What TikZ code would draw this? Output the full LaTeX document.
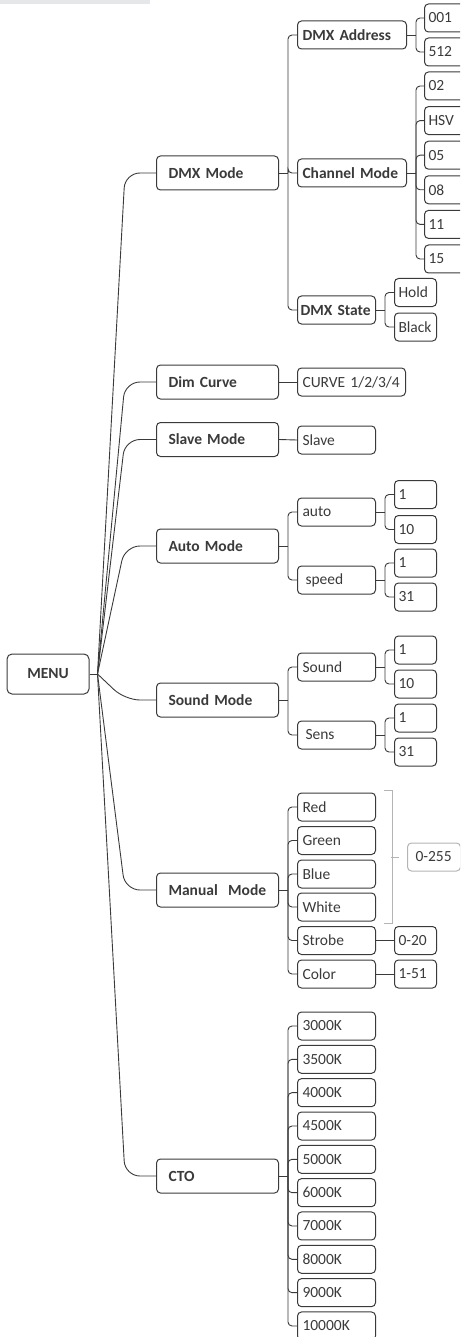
\documentclass[tikz,border=0pt]{standalone}
\usepackage{fontspec}
\setmainfont{Carlito}
\definecolor{ink}{HTML}{3A3A3A}
\definecolor{soft}{HTML}{B4B4B4}
\definecolor{bar}{HTML}{E6E7E9}
\begin{document}
\begin{tikzpicture}[x=1pt, y=-1pt, color=ink, font=\fontsize{15.5}{18}\selectfont,
  menubox/.style={draw, line width=1pt, rounded corners=5pt, minimum width=82pt, minimum height=40pt, font=\fontsize{15.5}{18}\selectfont\bfseries},
  topbox/.style={draw, line width=1pt, rounded corners=4pt, anchor=west, minimum height=34pt, text width=98pt, inner xsep=12pt, align=left, font=\fontsize{15.5}{18}\selectfont\bfseries},
  midbox/.style={draw, line width=1pt, rounded corners=4pt, anchor=west, minimum height=28pt, text width=#1, inner xsep=5pt, align=left},
  midbox/.default=68pt,
  endbox/.style={draw, line width=1pt, rounded corners=4pt, anchor=west, minimum height=28pt, text width=34pt, inner xsep=4pt, align=left},
  trunk/.style={line width=0.9pt, rounded corners=15pt},
  fork/.style={line width=0.9pt, rounded corners=4pt}]
\useasboundingbox (0,0) rectangle (460,1337);
\clip (0,0) rectangle (460,1337);
\fill[bar] (0,0) rectangle (150,4);
% root
\node[menubox] (menu) at (48,674){MENU};
\coordinate (mb) at ([xshift=8pt]menu.east);
\draw[fork] (menu.east) -- (mb);
% first level
\node[topbox] (dmx) at (156,173){DMX Mode};
\node[topbox] (dim) at (156,382){Dim Curve};
\node[topbox] (slave) at (156,439.5){Slave Mode};
\node[topbox] (auto) at (156,546){Auto Mode};
\node[topbox] (sound) at (156,700){Sound Mode};
\node[topbox] (manual) at (156,890){Manual\ \ Mode};
\node[topbox] (cto) at (156,1176){CTO};
\foreach \t in {dmx,dim,slave,auto,sound,manual,cto}
  \draw[trunk] (mb) -- ([xshift=-31pt]\t.west) -- (\t.west);
% DMX Mode
\node[midbox=99pt, font=\fontsize{15.5}{18}\selectfont\bfseries] (addr) at (297,35){DMX Address};
\node[midbox=99pt, font=\fontsize{15.5}{18}\selectfont\bfseries] (chan) at (297,173){Channel Mode};
\node[midbox=72pt, inner xsep=3pt, font=\fontsize{15.5}{18}\selectfont\bfseries] (state) at (297,310){DMX State};
\coordinate (dmxb) at ([xshift=9pt]dmx.east);
\draw[fork] (dmx.east) -- (dmxb);
\foreach \t in {addr,chan,state}
  \draw[fork] (dmxb) |- (\t.west);
\node[endbox] (a1) at (424,18){001};
\node[endbox] (a2) at (424,52){512};
\coordinate (addrb) at ([xshift=9pt]addr.east);
\draw[fork] (addr.east) -- (addrb);
\draw[fork] (addrb) |- (a1.west);
\draw[fork] (addrb) |- (a2.west);
\foreach \c [count=\i from 0] in {02,HSV,05,08,11,15}
  \node[endbox] (ch\i) at (424,86+34.6*\i){\c};
\coordinate (chanb) at ([xshift=9pt]chan.east);
\draw[fork] (chan.east) -- (chanb);
\foreach \i in {0,...,5}
  \draw[fork] (chanb) |- (ch\i.west);
\node[endbox] (hold) at (394,292.5){Hold};
\node[endbox] (black) at (394,327){Black};
\coordinate (stateb) at ([xshift=9pt]state.east);
\draw[fork] (state.east) -- (stateb);
\draw[fork] (stateb) |- (hold.west);
\draw[fork] (stateb) |- (black.west);
% Dim Curve, Slave Mode
\node[midbox=98pt] (curve) at (297,382){CURVE 1/2/3/4};
\draw[fork] (dim.east) -- (curve.west);
\node[midbox] (slv) at (297,440){Slave};
\draw[fork] (slave.east) -- (slv.west);
% Auto Mode
\node[midbox] (au) at (297,512){auto};
\node[midbox] (spd) at (297,580){\hspace*{3pt}speed};
\coordinate (autob) at ([xshift=9pt]auto.east);
\draw[fork] (auto.east) -- (autob);
\draw[fork] (autob) |- (au.west);
\draw[fork] (autob) |- (spd.west);
\node[endbox] (au1) at (394,494.5){1};
\node[endbox] (au2) at (394,529.5){10};
\coordinate (aub) at ([xshift=9pt]au.east);
\draw[fork] (au.east) -- (aub);
\draw[fork] (aub) |- (au1.west);
\draw[fork] (aub) |- (au2.west);
\node[endbox] (sp1) at (394,563){1};
\node[endbox] (sp2) at (394,597){31};
\coordinate (spdb) at ([xshift=9pt]spd.east);
\draw[fork] (spd.east) -- (spdb);
\draw[fork] (spdb) |- (sp1.west);
\draw[fork] (spdb) |- (sp2.west);
% Sound Mode
\node[midbox] (snd) at (297,667){Sound};
\node[midbox] (sens) at (297,735){\hspace*{3pt}Sens};
\coordinate (soundb) at ([xshift=9pt]sound.east);
\draw[fork] (sound.east) -- (soundb);
\draw[fork] (soundb) |- (snd.west);
\draw[fork] (soundb) |- (sens.west);
\node[endbox] (sn1) at (394,650){1};
\node[endbox] (sn2) at (394,684){10};
\coordinate (sndb) at ([xshift=9pt]snd.east);
\draw[fork] (snd.east) -- (sndb);
\draw[fork] (sndb) |- (sn1.west);
\draw[fork] (sndb) |- (sn2.west);
\node[endbox] (se1) at (394,718){1};
\node[endbox] (se2) at (394,752){31};
\coordinate (sensb) at ([xshift=9pt]sens.east);
\draw[fork] (sens.east) -- (sensb);
\draw[fork] (sensb) |- (se1.west);
\draw[fork] (sensb) |- (se2.west);
% Manual Mode
\node[midbox] (red) at (297,807){Red};
\node[midbox] (green) at (297,840.5){Green};
\node[midbox] (blue) at (297,874){Blue};
\node[midbox] (white) at (297,907){White};
\node[midbox] (strobe) at (297,940.5){Strobe};
\node[midbox] (color) at (297,974){Color};
\coordinate (manualb) at ([xshift=9pt]manual.east);
\draw[fork] (manual.east) -- (manualb);
\foreach \t in {red,green,blue,white,strobe,color}
  \draw[fork] (manualb) |- (\t.west);
\node[endbox] (st1) at (394,940.5){0-20};
\node[endbox] (co1) at (394,974){1-51};
\draw[fork] (strobe.east) -- (st1.west);
\draw[fork] (color.east) -- (co1.west);
\node[endbox, draw=soft, text width=37pt, inner xsep=8pt] (rng) at (407,857){0-255};
\draw[soft, line width=0.9pt] ([xshift=8pt,yshift=2pt]red.north east) -- ++(8,0) -- ([xshift=16pt,yshift=-2pt]white.south east) -- ++(-8,0);
\draw[soft, line width=0.9pt] ([xshift=-16pt]rng.west) -- ([xshift=-8pt]rng.west);
% CTO
\foreach \k [count=\i from 0] in {3000K,3500K,4000K,4500K,5000K,6000K,7000K,8000K,9000K,10000K}
  \node[midbox] (k\i) at (297,1026+33.33*\i){\k};
\coordinate (ctob) at ([xshift=9pt]cto.east);
\draw[fork] (cto.east) -- (ctob);
\foreach \i in {0,...,9}
  \draw[fork] (ctob) |- (k\i.west);
\end{tikzpicture}
\end{document}
